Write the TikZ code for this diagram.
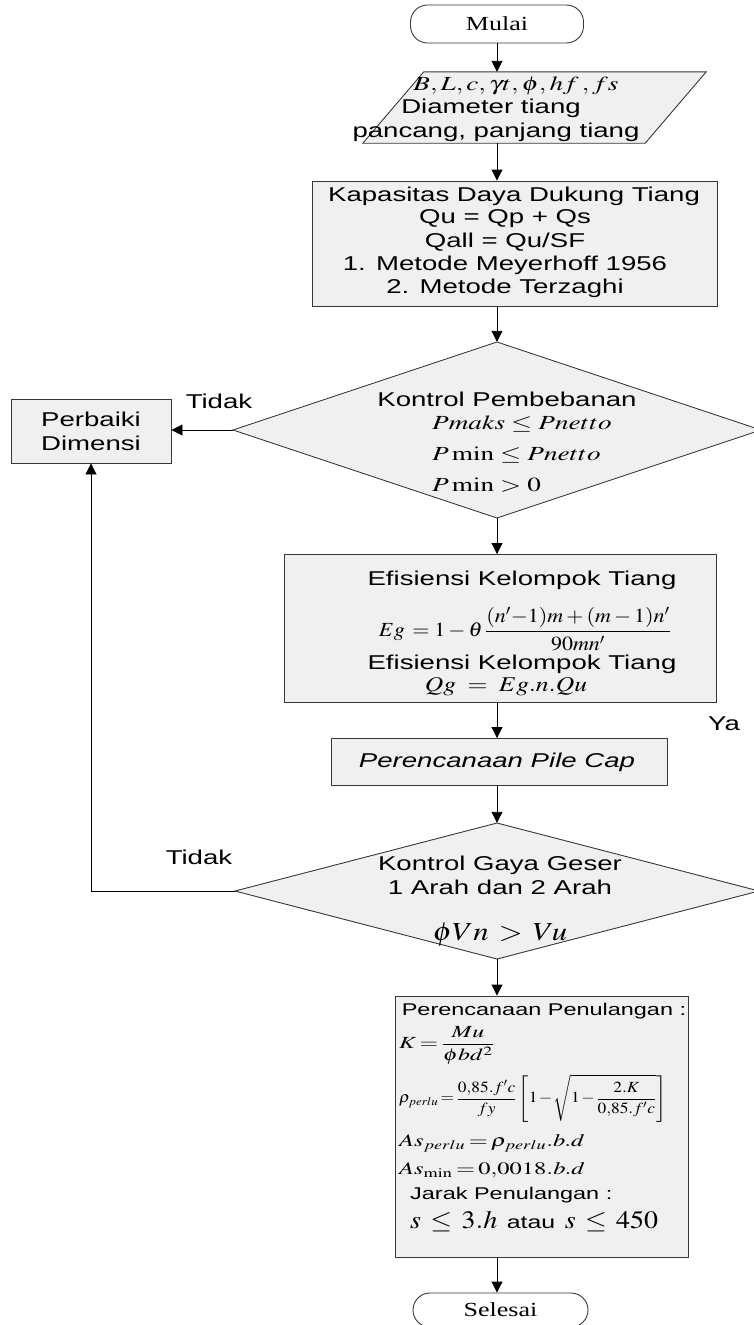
\documentclass[tikz,border=0pt]{standalone}
\usepackage{mathptmx}
\usepackage[no-math]{fontspec}
\usepackage{graphicx}
\usetikzlibrary{arrows.meta,calc}
\newfontfamily\sansx{Liberation Sans}[FakeStretch=1.38]
\newfontfamily\serifx{Liberation Serif}[FakeStretch=1.3]
% horizontally widened math: \mx{factor}{formula}
\newcommand\mx[2]{\scalebox{#1}[1]{$\displaystyle #2$}}
\newcommand\tight{\medmuskip=1.5mu\thickmuskip=2.5mu}
\definecolor{boxfill}{HTML}{F0F0F0}
\definecolor{edge}{HTML}{383838}
\begin{document}
\begin{tikzpicture}[x=1pt,y=-1pt,
  box/.style={draw=edge,fill=boxfill,line width=0.9pt,inner sep=0pt},
  term/.style={draw=edge,fill=white,line width=0.9pt,rounded corners=17pt,inner sep=0pt,
    font=\serifx\fontsize{20}{24}\selectfont},
  lbl/.style={inner sep=0pt,font=\sansx\fontsize{20}{24}\selectfont},
  slbl/.style={inner sep=0pt,font=\sansx\fontsize{17}{20}\selectfont},
  mth/.style={inner sep=0pt,font=\fontsize{20}{24}\selectfont},
  arr/.style={-{Triangle[length=11pt,width=11pt]},line width=0.9pt,draw=black}]
\useasboundingbox (0,0) rectangle (753,1325);

% ---- shapes ----
\node[term,minimum width=173pt,minimum height=38pt] (start) at (497,24) {Mulai};
\node[inner sep=0pt,minimum width=343pt,minimum height=71pt] (inp) at (534.5,107.5) {};
\draw[box] ($(inp.north west)+(61,0)$) -- (inp.north east)
  -- ($(inp.south east)-(61,0)$) -- (inp.south west) -- cycle;
\node[box,minimum width=405pt,minimum height=125pt] (cap) at (514.5,243.5) {};
\path[box] (497,342) -- (761,430) -- (497,518) -- (233,430) -- cycle;
\node[inner sep=0pt,minimum width=528pt,minimum height=176pt] (d1) at (497,430) {};
\node[box,minimum width=160pt,minimum height=64pt] (perb) at (91,431) {};
\node[box,minimum width=432pt,minimum height=148pt] (eff) at (500,628.5) {};
\node[box,minimum width=336pt,minimum height=47pt] (pile) at (499,762) {};
\path[box] (497,823) -- (759,891) -- (497,959) -- (235,891) -- cycle;
\node[inner sep=0pt,minimum width=524pt,minimum height=136pt] (d2) at (497,891) {};
\node[box,minimum width=293pt,minimum height=261pt] (fin) at (541.5,1126.5) {};
\node[term,minimum width=175pt,minimum height=34pt] (stop) at (500.5,1310) {Selesai};

% ---- texts ----
\node[mth] (t1) at (516,86) {\mx{1.36}{B, L, c, \gamma t, \phi, hf\,, fs}};
\node[lbl] (t2) at (491,108) {Diameter tiang};
\node[lbl] (t3) at (496,132) {pancang, panjang tiang};

\node[lbl] (k1) at (514,196) {Kapasitas Daya Dukung Tiang};
\node[lbl] (k2) at (505,219) {Qu = Qp + Qs};
\node[lbl] (k3) at (505,242) {Qall = Qu/SF};
\node[lbl] (k4) at (505,265) {1. Metode Meyerhoff 1956};
\node[lbl] (k5) at (505,288) {2. Metode Terzaghi};

\node[lbl] (c1) at (507,399) {Kontrol Pembebanan};
\node[mth,anchor=west] (c2) at (432,424) {\mx{1.36}{Pmaks \leq Pnetto}};
\node[mth,anchor=west] (c3) at (432,455) {\mx{1.36}{P\min \leq Pnetto}};
\node[mth,anchor=west] (c4) at (432,485) {\mx{1.36}{P\min > 0}};

\node[lbl,align=center] (pd) at (perb) {Perbaiki\\[0pt]Dimensi};
\node[lbl] (no1) at (219,401) {Tidak};

\node[lbl] (e1) at (522,580) {Efisiensi Kelompok Tiang};
\node[mth] (e2) at (525,629) {\mx{1.1}{Eg\,=1-\theta\,\frac{(n'{-}1)m+(m-1)n'}{90mn'}}};
\node[lbl] (e3) at (522,664) {Efisiensi Kelompok Tiang};
\node[mth,font=\fontsize{21}{24}\selectfont] (e4) at (506,687) {\mx{1.22}{Qg\;=\;Eg.n.Qu}};

\node[lbl] (yes) at (724,724) {Ya};
\node[lbl,font=\sansx\itshape\fontsize{20}{24}\selectfont] (pc) at (497,762) {Perencanaan Pile Cap};

\node[lbl] (no2) at (199,857) {Tidak};
\node[lbl] (g1) at (500,865) {Kontrol Gaya Geser};
\node[lbl] (g2) at (500,887) {1 Arah dan 2 Arah};
\node[mth,font=\fontsize{26}{30}\selectfont] (g3) at (500,935) {\mx{1.18}{\phi Vn\, >\, Vu}};

\node[slbl] (f1) at (544,1011) {Perencanaan Penulangan :};
\node[mth,font=\fontsize{17}{20}\selectfont,anchor=west] (f2) at (399,1045)
  {\mx{1.4}{\tight K=\frac{Mu}{\phi bd^{2}}}};
\node[mth,font=\fontsize{15.5}{19}\selectfont,anchor=west] (f3) at (399,1098)
  {\mx{1.12}{\tight\rho_{perlu}=\frac{0{,}85.f'c}{fy}\left[1-\sqrt{1-\frac{2.K}{0{,}85.f'c}}\right]}};
\node[mth,font=\fontsize{17.5}{20}\selectfont,anchor=west] (f4) at (399,1143) {\mx{1.4}{\tight As_{perlu}=\rho_{perlu}.b.d}};
\node[mth,font=\fontsize{17.5}{20}\selectfont,anchor=west] (f5) at (399,1170) {\mx{1.4}{\tight As_{\min}=0{,}0018.b.d}};
\node[slbl,anchor=west] (f6) at (410,1195) {Jarak Penulangan :};
\node[slbl,anchor=west] (f7) at (410,1222)
  {\fontsize{25}{28}\selectfont\mx{1.12}{s\,\leq\,3.h}\ {\fontsize{18}{20}\selectfont atau} \mx{1.12}{s\,\leq\,450}};

% ---- connectors ----
\draw[arr] (start) -- (start |- inp.north);
\draw[arr] (start |- inp.south) -- (start |- cap.north);
\draw[arr] (start |- cap.south) -- (d1.north);
\draw[arr] (d1.west) -- (d1.west -| perb.east);
\draw[arr] (d1.south) -- (d1.south |- eff.north);
\draw[arr] (d1.south |- eff.south) -- (d1.south |- pile.north);
\draw[arr] (d1.south |- pile.south) -- (d2.north);
\draw[arr] (d2.west) -| (perb.south);
\draw[arr] (d2.south) -- (d2.south |- fin.north);
\draw[arr] (d2.south |- fin.south) -- (d2.south |- stop.north);
\end{tikzpicture}
\end{document}
